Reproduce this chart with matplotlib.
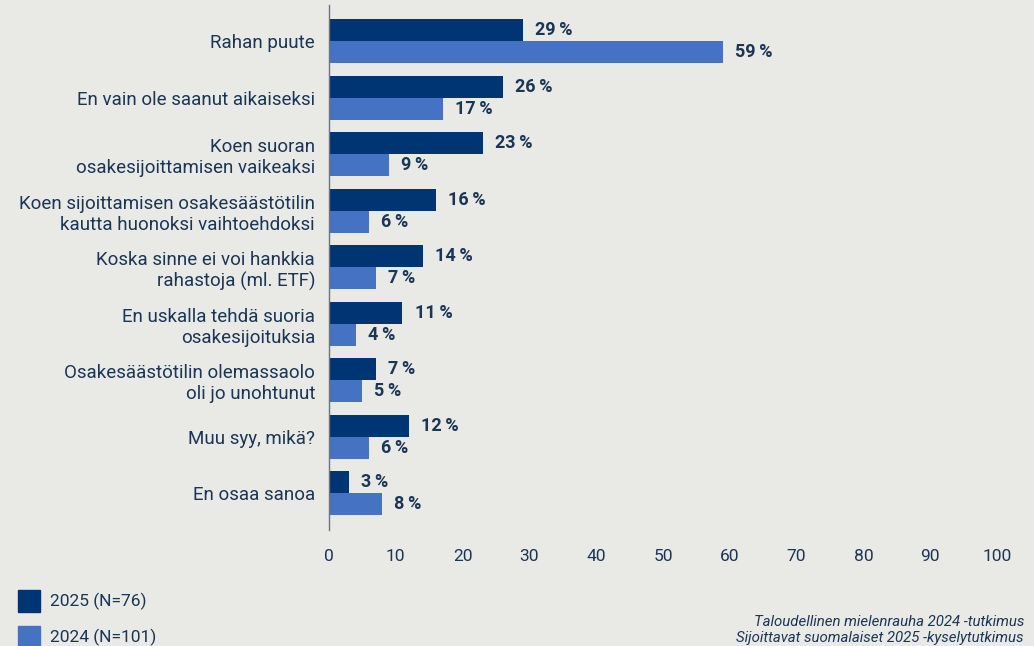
import numpy as np
import matplotlib
matplotlib.use("Agg")
import matplotlib.pyplot as plt
import matplotlib.patches as mpatches

# ── Data ──────────────────────────────────────────────────────────────────────
CATEGORIES = [
    "Rahan puute",
    "En vain ole saanut aikaiseksi",
    "Koen suoran\nosakesijoittamisen vaikeaksi",
    "Koen sijoittamisen osakesäästötilin\nkautta huonoksi vaihtoehdoksi",
    "Koska sinne ei voi hankkia\nrahastoja (ml. ETF)",
    "En uskalla tehdä suoria\nosakesijoituksia",
    "Osakesäästötilin olemassaolo\noli jo unohtunut",
    "Muu syy, mikä?",
    "En osaa sanoa",
]
VALUES_2025 = [29, 26, 23, 16, 14, 11, 7, 12, 3]
VALUES_2024 = [59, 17, 9, 6, 7, 4, 5, 6, 8]
SERIES_LABELS = ["2025 (N=76)", "2024 (N=101)"]
X_TICKS = [0, 10, 20, 30, 40, 50, 60, 70, 80, 90, 100]
SOURCES = "Taloudellinen mielenrauha 2024 -tutkimus\nSijoittavat suomalaiset 2025 -kyselytutkimus"

# ── Style ─────────────────────────────────────────────────────────────────────
BG = "#e9eae5"
DARK = "#003574"
LIGHT = "#4672c4"
TEXT = "#1b3556"
plt.rcParams["font.family"] = ["Roboto", "DejaVu Sans"]

fig = plt.figure(figsize=(10.34, 6.46), dpi=100, facecolor=BG)
ax = fig.add_axes([329 / 1034, 1 - 530 / 646, (997 - 329) / 1034, (530 - 5) / 646])
ax.set_facecolor(BG)

n = len(CATEGORIES)
y = np.arange(n)
h = 0.39

ax.barh(y - h / 2, VALUES_2025, height=h, color=DARK)
ax.barh(y + h / 2, VALUES_2024, height=h, color=LIGHT)

for yi, v in zip(y, VALUES_2025):
    ax.text(v + 1.8, yi - h / 2, f"{v}\u2009%", va="center", ha="left",
            fontsize=13, fontweight="bold", color=TEXT)
for yi, v in zip(y, VALUES_2024):
    ax.text(v + 1.8, yi + h / 2, f"{v}\u2009%", va="center", ha="left",
            fontsize=13, fontweight="bold", color=TEXT)

ax.set_xlim(0, 100)
ax.set_ylim(n - 1 + 0.65, -0.64)
ax.set_xticks(X_TICKS)
ax.set_xticklabels([str(t) for t in X_TICKS], fontsize=12.5, color=TEXT)
ax.set_yticks(y)
ax.set_yticklabels(CATEGORIES, fontsize=13.5, color=TEXT, linespacing=1.2)
ax.tick_params(axis="both", length=0)
ax.tick_params(axis="y", pad=10)
ax.tick_params(axis="x", pad=14)

for side in ["top", "right", "bottom"]:
    ax.spines[side].set_visible(False)
ax.spines["left"].set_color("#6b7280")
ax.spines["left"].set_linewidth(1)

# legend drawn as patches in figure coords
for i, (lab, col) in enumerate(zip(SERIES_LABELS, [DARK, LIGHT])):
    ytop = 590 + i * 36
    fig.patches.append(mpatches.Rectangle((18 / 1034, 1 - (ytop + 22) / 646), 22 / 1034, 22 / 646,
                                          transform=fig.transFigure, color=col))
    fig.text(50 / 1034, 1 - (ytop + 11) / 646, lab, fontsize=12.5, color=TEXT,
             va="center", ha="left")

fig.text(1024 / 1034, 1 - 630 / 646, SOURCES, fontsize=10.8, color=TEXT, style="italic",
         ha="right", va="center", linespacing=1.2)

fig.savefig("out.png", dpi=100, facecolor=BG)
